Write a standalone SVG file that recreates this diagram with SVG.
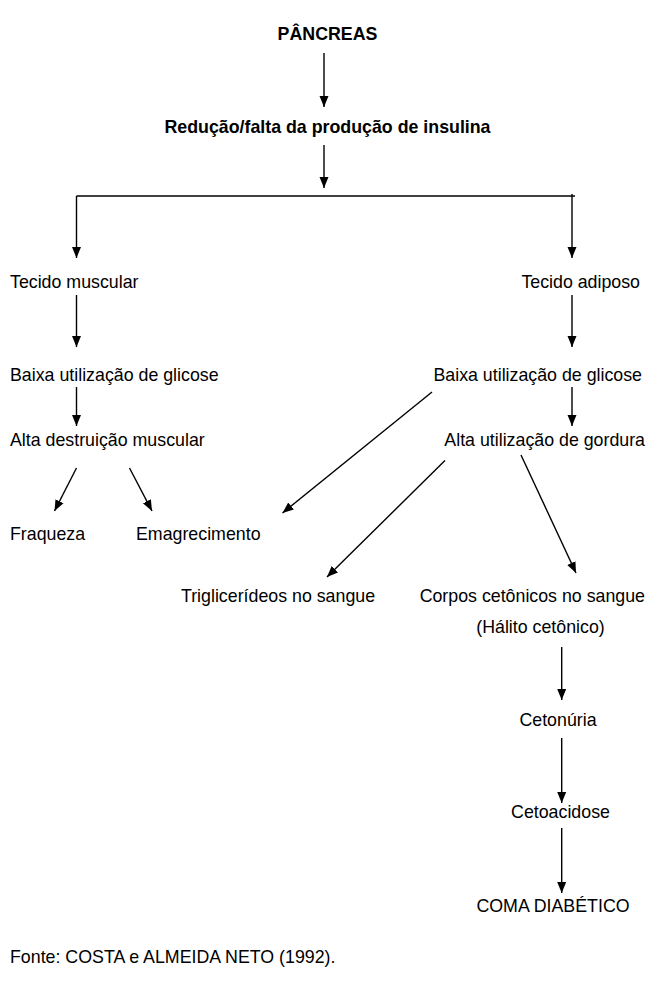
<svg xmlns="http://www.w3.org/2000/svg" width="658" height="1007" viewBox="0 0 658 1007">
<style>
text{font-family:"Liberation Sans",Arial,sans-serif;font-size:17.8px;fill:#000}
.b{font-weight:bold}
.e{text-anchor:end}
.m{text-anchor:middle}
.c line,.c path{stroke:#000;stroke-width:1.4;fill:none}
</style>
<defs>
<marker id="ah" markerUnits="userSpaceOnUse" markerWidth="12" markerHeight="12" viewBox="0 0 12 12" refX="11" refY="6" orient="auto">
<path d="M0,1.5 L11,6 L0,10.5 Z" fill="#000"/>
</marker>
</defs>
<rect width="658" height="1007" fill="#fff"/>
<g class="c" id="connectors">
<line x1="324" y1="53" x2="324" y2="107" marker-end="url(#ah)"/>
<line x1="324" y1="145" x2="324" y2="188" marker-end="url(#ah)"/>
<line x1="76.5" y1="196" x2="575" y2="196"/>
<line x1="76.5" y1="196" x2="76.5" y2="258" marker-end="url(#ah)"/>
<line x1="572" y1="194" x2="572" y2="258" marker-end="url(#ah)"/>
<line x1="76.5" y1="295" x2="76.5" y2="347" marker-end="url(#ah)"/>
<line x1="572" y1="295" x2="572" y2="347" marker-end="url(#ah)"/>
<line x1="76.5" y1="387" x2="76.5" y2="426" marker-end="url(#ah)"/>
<line x1="572" y1="387" x2="572" y2="426" marker-end="url(#ah)"/>
<line x1="76.5" y1="468" x2="54.5" y2="511" marker-end="url(#ah)"/>
<line x1="129.5" y1="468" x2="152" y2="511" marker-end="url(#ah)"/>
<line x1="432" y1="392" x2="282.5" y2="513" marker-end="url(#ah)"/>
<line x1="445" y1="460.5" x2="327" y2="577" marker-end="url(#ah)"/>
<line x1="521" y1="455" x2="576" y2="573" marker-end="url(#ah)"/>
<line x1="561.7" y1="647" x2="561.7" y2="700" marker-end="url(#ah)"/>
<line x1="561.7" y1="738" x2="561.7" y2="803" marker-end="url(#ah)"/>
<line x1="561.7" y1="828" x2="561.7" y2="893" marker-end="url(#ah)"/>
</g>
<g id="pancreas"><text class="b m" x="327.5" y="39.5">PÂNCREAS</text></g>
<g id="reducao"><text class="b m" x="327.5" y="133">Redução/falta da produção de insulina</text></g>
<g id="tecido-muscular"><text x="10" y="288">Tecido muscular</text></g>
<g id="tecido-adiposo"><text class="e" x="640" y="288">Tecido adiposo</text></g>
<g id="baixa-esq"><text x="10" y="381">Baixa utilização de glicose</text></g>
<g id="baixa-dir"><text class="e" x="642" y="381">Baixa utilização de glicose</text></g>
<g id="alta-destruicao"><text x="10" y="446">Alta destruição muscular</text></g>
<g id="alta-gordura"><text class="e" x="645" y="446">Alta utilização de gordura</text></g>
<g id="fraqueza"><text x="10" y="540">Fraqueza</text></g>
<g id="emagrecimento"><text x="136" y="540">Emagrecimento</text></g>
<g id="triglicerideos"><text x="181" y="602">Triglicerídeos no sangue</text></g>
<g id="corpos"><text class="e" x="645" y="602">Corpos cetônicos no sangue</text></g>
<g id="halito"><text class="m" x="540.5" y="633">(Hálito cetônico)</text></g>
<g id="cetonuria"><text class="m" x="558" y="726">Cetonúria</text></g>
<g id="cetoacidose"><text class="m" x="560.5" y="818">Cetoacidose</text></g>
<g id="coma"><text class="m" x="553" y="912">COMA DIABÉTICO</text></g>
<g id="fonte"><text x="10" y="963">Fonte: COSTA e ALMEIDA NETO (1992).</text></g>
</svg>
